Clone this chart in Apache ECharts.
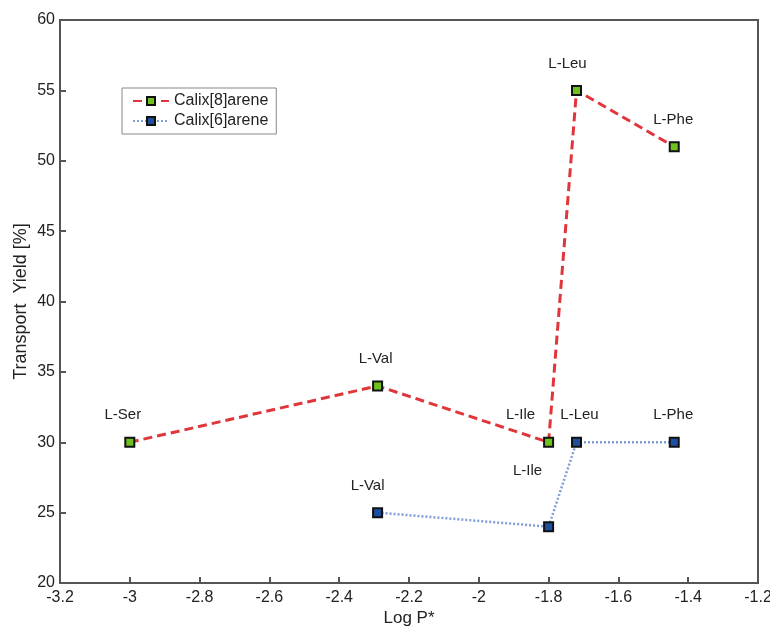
<!DOCTYPE html>
<html>
<head>
<meta charset="utf-8">
<script src="https://cdn.jsdelivr.net/npm/echarts@6/dist/echarts.min.js"></script>
<style>
    html, body { margin: 0; padding: 0; background: #fff; }
    #chart { width: 770px; height: 628px; }
</style>
</head>
<body>
<div id="chart"></div>
<script>
// data
var c8LogP = [-3.0, -2.29, -1.8, -1.72, -1.44];
var c8Yield = [30, 34, 30, 55, 51];
var c8Names = ['L-Ser', 'L-Val', 'L-Ile', 'L-Leu', 'L-Phe'];

var c6LogP = [-2.29, -1.8, -1.72, -1.44];
var c6Yield = [25, 24, 30, 30];
var c6Names = ['L-Val', 'L-Ile', 'L-Leu', 'L-Phe'];

var xTicks = [-3.2, -3, -2.8, -2.6, -2.4, -2.2, -2, -1.8, -1.6, -1.4, -1.2];
var yTicks = [20, 25, 30, 35, 40, 45, 50, 55, 60];

// label nudges (px) so names sit where the original puts them
var c8Offsets = [[-7, 0], [-2, 0], [-28, 0], [-9, 0], [-1, 0]];
var c6Offsets = [[-10, 0], [-21, -29], [3, 0], [-1, 0]];

function makeData(xs, ys, names, offs) {
    return xs.map(function (x, i) {
        return {
            value: [x, ys[i]],
            name: names[i],
            label: { offset: offs[i] }
        };
    });
}

var labelStyle = {
    show: true,
    position: 'top',
    distance: 14,
    formatter: '{b}',
    color: '#222',
    fontSize: 15,
    fontFamily: 'Liberation Sans'
};

var chart = echarts.init(document.getElementById('chart'));
var option = {
    animation: false,
    textStyle: { fontFamily: 'Liberation Sans' },
    grid: {
        left: 60, right: 12, top: 20, bottom: 45,
        outerBoundsMode: 'none',
        containLabel: false,
        show: true,
        borderColor: '#555',
        borderWidth: 2
    },
    legend: {
        left: 122, top: 88,
        orient: 'vertical',
        itemGap: 4,
        itemWidth: 36,
        itemHeight: 10,
        padding: [5, 8, 5, 10],
        borderColor: '#888',
        borderWidth: 1,
        textStyle: { fontSize: 16, color: '#222' },
        data: ['Calix[8]arene', 'Calix[6]arene']
    },
    xAxis: {
        type: 'value',
        min: -3.2, max: -1.2, interval: 0.2,
        name: 'Log P*',
        nameLocation: 'middle',
        nameMoveOverlap: false,
        nameGap: 27,
        nameTextStyle: { fontSize: 17, color: '#222' },
        axisLine: { lineStyle: { color: '#555', width: 2 } },
        axisTick: { inside: true, length: 6, lineStyle: { color: '#555', width: 2 } },
        splitLine: { show: false },
        axisLabel: {
            fontSize: 16, color: '#222', margin: 7,
            formatter: function (v) {
                var r = Math.round(v * 10) / 10;
                return xTicks.indexOf(r) >= 0 ? String(r) : '';
            }
        }
    },
    yAxis: {
        type: 'value',
        min: 20, max: 60, interval: 5,
        name: 'Transport  Yield [%]',
        nameLocation: 'middle',
        nameMoveOverlap: false,
        nameGap: 30,
        nameTextStyle: { fontSize: 18, color: '#222' },
        axisLine: { lineStyle: { color: '#555', width: 2 } },
        axisTick: { inside: true, length: 6, lineStyle: { color: '#555', width: 2 } },
        splitLine: { show: false },
        axisLabel: {
            fontSize: 16, color: '#222', margin: 5,
            formatter: function (v) {
                return yTicks.indexOf(v) >= 0 ? String(v) : '';
            }
        }
    },
    series: [
        {
            name: 'Calix[8]arene',
            type: 'line',
            symbol: 'rect',
            symbolSize: 9,
            itemStyle: { color: '#6fc21e', borderColor: '#111', borderWidth: 2 },
            lineStyle: { color: '#e0353a', width: 3, type: [9, 5] },
            label: labelStyle,
            data: makeData(c8LogP, c8Yield, c8Names, c8Offsets)
        },
        {
            name: 'Calix[6]arene',
            type: 'line',
            symbol: 'rect',
            symbolSize: 9,
            itemStyle: { color: '#1f4ea0', borderColor: '#111', borderWidth: 2 },
            lineStyle: { color: '#7f9fd6', width: 2.5, type: [2, 2] },
            label: labelStyle,
            data: makeData(c6LogP, c6Yield, c6Names, c6Offsets)
        }
    ]
};
chart.setOption(option, true);
</script>
</body>
</html>
